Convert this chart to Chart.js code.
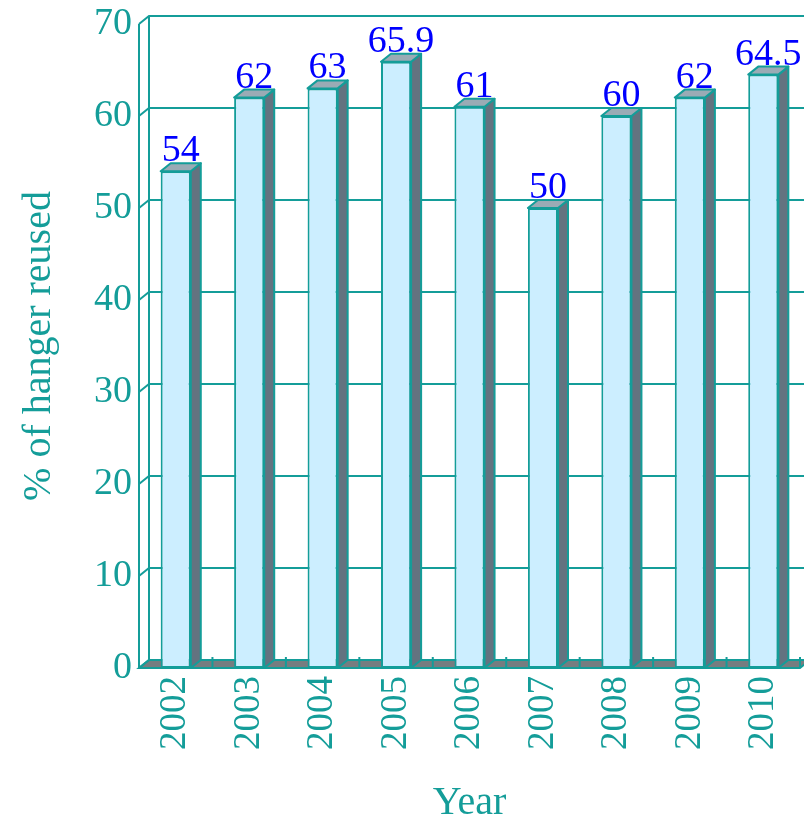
<!DOCTYPE html>
<html>
<head>
<meta charset="utf-8">
<script src="https://cdn.jsdelivr.net/npm/chart.js@4/dist/chart.umd.min.js"></script>
<style>
  html, body { margin: 0; padding: 0; background: #fff; }
  #box { width: 804px; height: 820px; }
</style>
</head>
<body>
<div id="box"><canvas id="c" width="804" height="820"></canvas></div>
<script>
const years = ["2002", "2003", "2004", "2005", "2006", "2007", "2008", "2009", "2010"];
const reusedPct = [54, 62, 63, 65.9, 61, 50, 60, 62, 64.5];
const yTicks = [0, 10, 20, 30, 40, 50, 60, 70];

const TEAL = "#149d99";
const FRONT = "#cceeff";
const TOP = "#9aabb5";
const SIDE = "#637380";
const FLOOR = "#767d80";
const LABEL = "#0000ff";
const SERIF = "'Liberation Serif', 'Times New Roman', serif";

// fake depth for the 3D look: back wall sits this far right / up
const DX = 10;
const DY = 8;

const wallPlugin = {
  id: "wall",
  beforeDatasetsDraw(chart) {
    const {ctx, chartArea, scales} = chart;
    const {left, right, top, bottom} = chartArea;
    const y = scales.y;
    ctx.save();
    ctx.strokeStyle = TEAL;
    ctx.lineWidth = 2;

    // floor
    ctx.beginPath();
    ctx.moveTo(left, bottom);
    ctx.lineTo(right, bottom);
    ctx.lineTo(right + DX, bottom - DY);
    ctx.lineTo(left + DX, bottom - DY);
    ctx.closePath();
    ctx.fillStyle = FLOOR;
    ctx.fill();
    ctx.stroke();

    // back wall grid + slanted ticks off the front axis
    for (const v of yTicks) {
      const py = y.getPixelForValue(v);
      ctx.beginPath();
      ctx.moveTo(left, py);
      ctx.lineTo(left + DX, py - DY);
      ctx.lineTo(chart.width + DX, py - DY);
      ctx.stroke();
    }
    ctx.beginPath();
    ctx.moveTo(left + DX, top - DY);
    ctx.lineTo(left + DX, bottom - DY);
    ctx.moveTo(left, top);
    ctx.lineTo(left, bottom);
    ctx.stroke();

    // small ticks on the floor between categories
    const step = (right - left) / years.length;
    ctx.beginPath();
    for (let i = 1; i <= years.length; i++) {
      const px = left + i * step;
      ctx.moveTo(px, bottom - 1);
      ctx.lineTo(px, bottom - 11);
    }
    ctx.stroke();
    ctx.restore();
  },
  afterDatasetsDraw(chart) {
    const {ctx} = chart;
    const meta = chart.getDatasetMeta(0);
    ctx.save();
    ctx.strokeStyle = TEAL;
    ctx.lineWidth = 2;
    ctx.lineJoin = "round";
    meta.data.forEach((bar, i) => {
      const {x, y, base, width} = bar.getProps(["x", "y", "base", "width"], true);
      const l = x - width / 2;
      const r = x + width / 2;
      // side face
      ctx.beginPath();
      ctx.moveTo(r, y);
      ctx.lineTo(r + DX, y - DY);
      ctx.lineTo(r + DX, base - DY);
      ctx.lineTo(r, base);
      ctx.closePath();
      ctx.fillStyle = SIDE;
      ctx.fill();
      ctx.stroke();
      // top face
      ctx.beginPath();
      ctx.moveTo(l, y);
      ctx.lineTo(l + DX, y - DY);
      ctx.lineTo(r + DX, y - DY);
      ctx.lineTo(r, y);
      ctx.closePath();
      ctx.fillStyle = TOP;
      ctx.fill();
      ctx.stroke();
      // value label
      ctx.fillStyle = LABEL;
      ctx.font = `38px ${SERIF}`;
      ctx.textAlign = "center";
      ctx.textBaseline = "alphabetic";
      ctx.fillText(String(reusedPct[i]), x + DX / 2, y - DY - 2);
    });
    ctx.restore();
  },
};

new Chart(document.getElementById("c"), {
  type: "bar",
  data: {
    labels: years,
    datasets: [{
      data: reusedPct,
      backgroundColor: FRONT,
      borderColor: TEAL,
      borderWidth: 2,
      borderSkipped: false,
      categoryPercentage: 1,
      barPercentage: 0.41,
    }],
  },
  options: {
    responsive: false,
    animation: false,
    devicePixelRatio: 1,
    layout: {padding: {top: 24, right: 4, left: 0, bottom: 0}},
    plugins: {legend: {display: false}, tooltip: {enabled: false}},
    scales: {
      x: {
        grid: {display: false, drawTicks: false},
        border: {display: false},
        ticks: {color: TEAL, font: {family: SERIF, size: 37}, minRotation: 90, maxRotation: 90, padding: 8},
        title: {display: true, text: "Year", color: TEAL, font: {family: SERIF, size: 40, lineHeight: 0.85}, padding: {top: 0, bottom: 0}},
        afterFit: (s) => { s.height = 152; s.paddingLeft = 0; s.paddingRight = 0; },
      },
      y: {
        min: 0,
        max: 70,
        grid: {display: false, drawTicks: false},
        border: {display: false},
        ticks: {stepSize: 10, color: TEAL, font: {family: SERIF, size: 38}, padding: 7},
        title: {display: true, text: "% of hanger reused", color: TEAL, font: {family: SERIF, size: 40, lineHeight: 1.2}, padding: {top: 15, bottom: 0}},
        afterFit: (s) => { s.width = 139; s.paddingTop = 0; s.paddingBottom = 0; },
      },
    },
  },
  plugins: [wallPlugin],
});
</script>
</body>
</html>
